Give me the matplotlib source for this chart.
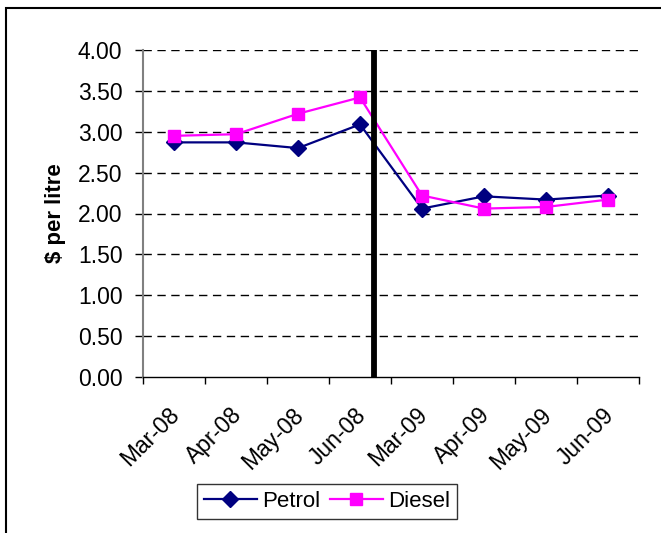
import matplotlib
matplotlib.use("Agg")
import matplotlib.pyplot as plt
from matplotlib.patches import Rectangle
from matplotlib.transforms import ScaledTranslation
import numpy as np

plt.rcParams['font.family'] = ['Liberation Sans', 'DejaVu Sans']

months = ["Mar-08", "Apr-08", "May-08", "Jun-08", "Mar-09", "Apr-09", "May-09", "Jun-09"]
petrol = [2.87, 2.87, 2.80, 3.09, 2.06, 2.21, 2.17, 2.22]
diesel = [2.95, 2.97, 3.22, 3.42, 2.22, 2.06, 2.08, 2.17]
y_ticks = [0.0, 0.5, 1.0, 1.5, 2.0, 2.5, 3.0, 3.5, 4.0]

# divider between the 2008 and 2009 periods (category units)
divider_x = 3.23

fig = plt.figure(figsize=(6.61, 5.33), dpi=100)
ax = fig.add_axes([143 / 661, 1 - 377 / 533, 496 / 661, 327 / 533])

x = np.arange(len(months))
ax.plot(x, petrol, color="#000080", lw=1.6, marker="D", ms=8.5,
        mfc="#000080", mec="#000080", label="Petrol", zorder=4)
ax.plot(x, diesel, color="#FF00FF", lw=1.6, marker="s", ms=9,
        mfc="#FF00FF", mec="#FF00FF", label="Diesel", zorder=4)

ax.axvline(divider_x, color="black", lw=4.2, zorder=5)

ax.set_xlim(-0.5, len(months) - 0.5)
ax.set_ylim(0, 4)
ax.set_yticks(y_ticks)
ax.set_yticklabels([f"{v:.2f}" for v in y_ticks], fontsize=16.5)
for v in y_ticks[1:]:
    ax.axhline(v, color="black", lw=1.0, ls=(0, (6, 4)), zorder=1)

ax.set_xticks(np.arange(len(months) + 1) - 0.5)
ax.set_xticklabels([])
ax.set_xticks(x, minor=True)
ax.set_xticklabels(months, minor=True, rotation=45, ha="right",
                   rotation_mode="anchor", fontsize=16.5)
ax.tick_params(axis="x", which="minor", length=0, pad=19)
ax.tick_params(axis="x", which="major", length=5, width=1, color="black")
ax.tick_params(axis="y", length=5.8, width=1, color="black", pad=9.0)

shift = ScaledTranslation(-6 / 100, 0, fig.dpi_scale_trans)
for lab in ax.get_xticklabels(minor=True):
    lab.set_transform(lab.get_transform() + shift)

for side in ("top", "right"):
    ax.spines[side].set_visible(False)
ax.spines["left"].set_color("#808080")
ax.spines["left"].set_linewidth(1.5)
ax.spines["bottom"].set_color("black")
ax.spines["bottom"].set_linewidth(1.0)

ax.set_ylabel("$ per litre", fontsize=16, fontweight="bold")
ax.yaxis.set_label_coords((66 - 143) / 496, 0.5)

leg = fig.legend(loc="center", bbox_to_anchor=(327 / 661, 1 - 501.5 / 533),
                 ncol=2, fontsize=16, frameon=True, fancybox=False,
                 edgecolor="black", handlelength=2.4, columnspacing=0.4,
                 handletextpad=0.25, borderpad=0.3)
leg.get_frame().set_linewidth(1.0)

fig.patches.append(Rectangle((6 / 661, -0.1), 1.2, 1.1 - 8 / 533,
                             transform=fig.transFigure, fill=False,
                             edgecolor="black", lw=1.5))

fig.savefig("out.png", dpi=100)
